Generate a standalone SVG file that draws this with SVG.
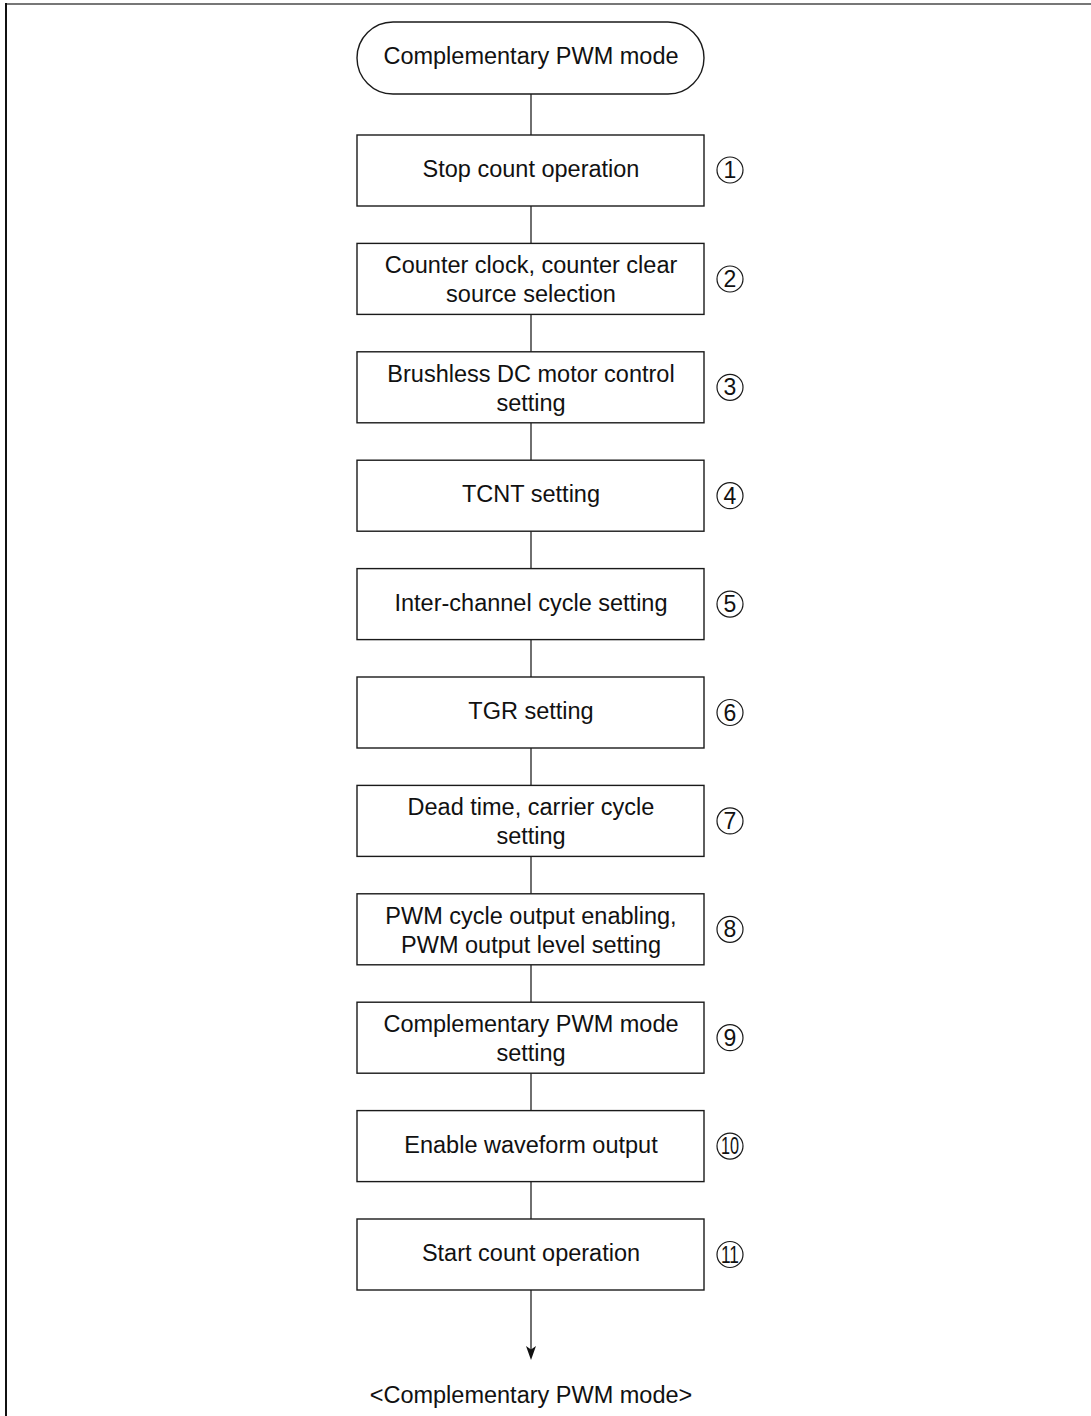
<svg xmlns="http://www.w3.org/2000/svg" width="1091" height="1416" viewBox="0 0 1091 1416">
<style>
.b{fill:#fff;stroke:#1a1a1a;stroke-width:1.4}
.t{font-family:"Liberation Sans",Arial,sans-serif;font-size:23.5px;fill:#111;text-anchor:middle}
.n{font-family:"Liberation Sans",Arial,sans-serif;font-size:23px;fill:#111;text-anchor:middle}
.c{fill:none;stroke:#1a1a1a;stroke-width:1.2}
.l{stroke:#333;stroke-width:1.4;fill:none}
</style>
<rect width="1091" height="1416" fill="#fff"/>
<line x1="6" y1="4" x2="1091" y2="4" stroke="#777" stroke-width="2"/>
<line x1="6" y1="3" x2="6" y2="1416" stroke="#111" stroke-width="2"/>
<g id="connectors">
<line class="l" x1="531" y1="94" x2="531" y2="135"/>
<line class="l" x1="531" y1="206" x2="531" y2="243.4"/>
<line class="l" x1="531" y1="314.4" x2="531" y2="351.8"/>
<line class="l" x1="531" y1="422.8" x2="531" y2="460.2"/>
<line class="l" x1="531" y1="531.2" x2="531" y2="568.6"/>
<line class="l" x1="531" y1="639.6" x2="531" y2="677"/>
<line class="l" x1="531" y1="748" x2="531" y2="785.4"/>
<line class="l" x1="531" y1="856.4" x2="531" y2="893.8"/>
<line class="l" x1="531" y1="964.8" x2="531" y2="1002.2"/>
<line class="l" x1="531" y1="1073.2" x2="531" y2="1110.6"/>
<line class="l" x1="531" y1="1181.6" x2="531" y2="1219"/>
<line class="l" x1="531" y1="1290" x2="531" y2="1352"/>
<path d="M526,1346 L531,1349.5 L536,1346 L531,1360 Z" fill="#111"/>
</g>
<g id="start">
<rect class="b" x="357" y="22" width="347" height="72" rx="36" ry="36"/>
<text class="t" x="531" y="64">Complementary PWM mode</text>
</g>
<g id="s1">
<rect class="b" x="357" y="135" width="347" height="71"/>
<text class="t" x="531" y="177">Stop count operation</text>
<circle class="c" cx="730" cy="170" r="13"/><text class="n" x="730" y="178">1</text>
</g>
<g id="s2">
<rect class="b" x="357" y="243.4" width="347" height="71"/>
<text class="t" x="531" y="273">Counter clock, counter clear</text>
<text class="t" x="531" y="302">source selection</text>
<circle class="c" cx="730" cy="279" r="13"/><text class="n" x="730" y="287">2</text>
</g>
<g id="s3">
<rect class="b" x="357" y="351.8" width="347" height="71"/>
<text class="t" x="531" y="381.5">Brushless DC motor control</text>
<text class="t" x="531" y="410.5">setting</text>
<circle class="c" cx="730" cy="387.3" r="13"/><text class="n" x="730" y="395.3">3</text>
</g>
<g id="s4">
<rect class="b" x="357" y="460.2" width="347" height="71"/>
<text class="t" x="531" y="502.2">TCNT setting</text>
<circle class="c" cx="730" cy="495.7" r="13"/><text class="n" x="730" y="503.7">4</text>
</g>
<g id="s5">
<rect class="b" x="357" y="568.6" width="347" height="71"/>
<text class="t" x="531" y="610.6">Inter-channel cycle setting</text>
<circle class="c" cx="730" cy="604.1" r="13"/><text class="n" x="730" y="612.1">5</text>
</g>
<g id="s6">
<rect class="b" x="357" y="677" width="347" height="71"/>
<text class="t" x="531" y="719">TGR setting</text>
<circle class="c" cx="730" cy="712.5" r="13"/><text class="n" x="730" y="720.5">6</text>
</g>
<g id="s7">
<rect class="b" x="357" y="785.4" width="347" height="71"/>
<text class="t" x="531" y="815">Dead time, carrier cycle</text>
<text class="t" x="531" y="844">setting</text>
<circle class="c" cx="730" cy="820.9" r="13"/><text class="n" x="730" y="828.9">7</text>
</g>
<g id="s8">
<rect class="b" x="357" y="893.8" width="347" height="71"/>
<text class="t" x="531" y="923.5">PWM cycle output enabling,</text>
<text class="t" x="531" y="952.5">PWM output level setting</text>
<circle class="c" cx="730" cy="929.3" r="13"/><text class="n" x="730" y="937.3">8</text>
</g>
<g id="s9">
<rect class="b" x="357" y="1002.2" width="347" height="71"/>
<text class="t" x="531" y="1032">Complementary PWM mode</text>
<text class="t" x="531" y="1061">setting</text>
<circle class="c" cx="730" cy="1037.7" r="13"/><text class="n" x="730" y="1045.7">9</text>
</g>
<g id="s10">
<rect class="b" x="357" y="1110.6" width="347" height="71"/>
<text class="t" x="531" y="1152.6">Enable waveform output</text>
<circle class="c" cx="730" cy="1146.1" r="13"/><text class="n" x="730" y="1154.1" textLength="18" lengthAdjust="spacingAndGlyphs">10</text>
</g>
<g id="s11">
<rect class="b" x="357" y="1219" width="347" height="71"/>
<text class="t" x="531" y="1261">Start count operation</text>
<circle class="c" cx="730" cy="1254.5" r="13"/><text class="n" x="730" y="1262.5" textLength="18" lengthAdjust="spacingAndGlyphs">11</text>
</g>
<text class="t" x="531" y="1403">&lt;Complementary PWM mode&gt;</text>
</svg>
